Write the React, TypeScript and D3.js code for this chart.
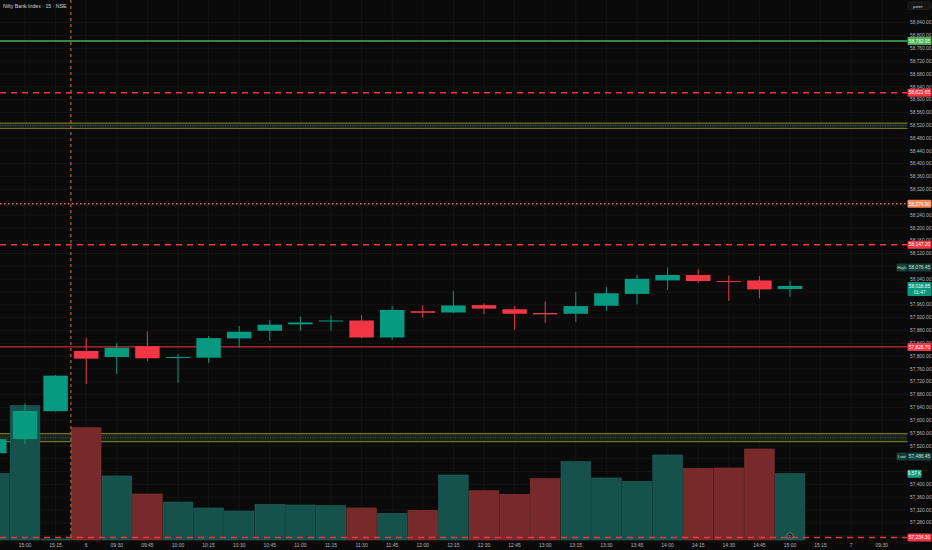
import React from "react";
import * as d3 from "d3";

// ---- data ----
const barIndex = [0, 1, 2, 3, 4, 5, 6, 7, 8, 9, 10, 11, 12, 13, 14, 15, 16, 17, 18, 19, 20, 21, 22, 23, 24, 25, 26];
const opens = [57497, 57541, 57628, 57816, 57797, 57831, 57795, 57795, 57855, 57879, 57899, 57909, 57911, 57858, 57940, 57936, 57959, 57946, 57934.5, 57932, 57957, 57994, 58036, 58053, 58034, 58036, 58009];
const highs = [57545, 57652, 57741, 57857, 57840, 57877, 57806, 57862, 57894, 57912, 57923, 57927, 57928, 57957, 57959, 58003, 57964, 57956, 57970, 58000, 58016, 58053, 58076.45, 58071, 58051, 58050, 58035];
const lows = [57486.45, 57525, 57627, 57713, 57744, 57785, 57717, 57779, 57827, 57848, 57879, 57879, 57856, 57850, 57920, 57935, 57931, 57883, 57904, 57906, 57941, 57961, 58006, 58029, 57972, 57980, 57985];
const closes = [57541, 57629, 57739, 57792, 57826, 57793, 57797, 57856, 57876, 57898, 57905, 57911, 57858, 57944, 57935, 57958, 57948, 57932, 57930, 57956, 57996, 58041, 58053, 58034, 58032, 58008, 58018.85];
const volumesK = [9.62, 19.38, 0.15, 16.2, 9.24, 6.64, 5.48, 4.62, 4.18, 5.15, 5.05, 4.95, 4.62, 3.85, 4.29, 9.38, 7.11, 6.6, 8.85, 11.3, 8.95, 8.47, 12.27, 10.35, 10.39, 13.13, 9.57];

const axisIndex = [1, 2, 3, 4, 5, 6, 7, 8, 9, 10, 11, 12, 13, 14, 15, 16, 17, 18, 19, 20, 21, 22, 23, 24, 25, 26, 27, 28, 29];
const axisLabels = ["15:00", "15:15", "6", "09:30", "09:45", "10:00", "10:15", "10:30", "10:45", "11:00", "11:15", "11:30", "11:45", "12:00", "12:15", "12:30", "12:45", "13:00", "13:15", "13:30", "13:45", "14:00", "14:15", "14:30", "14:45", "15:00", "15:15", "7", "09:30"];

const priceTicks = [58840, 58800, 58760, 58720, 58680, 58640, 58600, 58560, 58520, 58480, 58440, 58400, 58360, 58320, 58280, 58240, 58200, 58160, 58120, 58080, 58040, 58000, 57960, 57920, 57880, 57840, 57800, 57760, 57720, 57680, 57640, 57600, 57560, 57520, 57480, 57440, 57400, 57360, 57320, 57280, 57240];

const levelPrices = [58782.95, 58621.65, 58274.9, 58147.2, 57828.7, 57234.3];
const levelLabels = ["58,782.95", "58,621.65", "58,274.90", "58,147.20", "57,828.70", "57,234.30"];
const zoneHighs = [58527, 57558];
const zoneLows = [58510, 57533];

const highPrice = 58076.45;
const lowPrice = 57486.45;
const lastPrice = 58018.85;
const lastVolumeK = 9.57;
const title = "Nifty Bank Index · 15 · NSE";

// ---- styles ----
const W = 932;
const H = 550;
const PLOT_R = 907.5;
const UP = "#089981";
const DOWN = "#f23645";
const FONT = "'Liberation Sans', Arial, sans-serif";
const TICK_FS = 4.8;
const levelStyles = [
  { color: "#4caf50", dash: "", width: 1.5, bg: "#4caf50" },
  { color: "#f23645", dash: "6 5", width: 1.5, bg: "#f23645" },
  { color: "#f0703c", dash: "1.5 2.5", width: 1.5, bg: "#ee875a" },
  { color: "#f23645", dash: "6 5", width: 1.5, bg: "#f23645" },
  { color: "#f23645", dash: "", width: 1, bg: "#f23645" },
  { color: "#f23645", dash: "6 5", width: 1.5, bg: "#f23645" },
];

const fmt = d3.format(",.2f");

export default function App() {
  const x = d3.scaleLinear().domain([1, 26]).range([25, 790]);
  const y = d3.scaleLinear().domain([57240, 58840]).range([535.6, 22.7]);
  const yVol = d3.scaleLinear().domain([0, 20]).range([540, 401.4]);
  const step = x(2) - x(1);
  const bodyW = step * 0.8;
  const volW = step - 1;

  const labelYs = [
    ...levelPrices.map((p) => y(p)),
    y(highPrice),
    y(lowPrice),
    y(lastPrice),
    y(lastPrice) + 6,
    yVol(lastVolumeK),
  ];
  const visibleTicks = priceTicks.filter((t) => labelYs.every((ly) => Math.abs(ly - y(t)) >= 3));

  const sepX = (x(2) + x(3)) / 2;

  return (
    <div style={{ position: "fixed", left: 0, top: 0, width: W, height: H, background: "#0a0a0a" }}>
      <svg width={W} height={H} style={{ display: "block", fontFamily: FONT }}>
        <rect x={0} y={0} width={W} height={H} fill="#0a0a0a" />
        {/* grid */}
        {axisIndex.map((i) => (
          <line key={"gv" + i} x1={x(i)} x2={x(i)} y1={0} y2={540} stroke="#141414" strokeWidth={1} />
        ))}
        {priceTicks.map((t) => (
          <line key={"gh" + t} x1={0} x2={PLOT_R} y1={y(t)} y2={y(t)} stroke="#141414" strokeWidth={1} />
        ))}

        {/* zones */}
        {zoneHighs.map((zh, k) => {
          const y0 = y(zh);
          const y1 = y(zoneLows[k]);
          return (
            <g key={"z" + k}>
              <rect x={0} y={y0} width={PLOT_R} height={y1 - y0} fill="#17231c" />
              <line x1={0} x2={PLOT_R} y1={(y0 + y1) / 2} y2={(y0 + y1) / 2} stroke="#4a5a4a" strokeWidth={1} strokeDasharray="1 1.5" />
              <line x1={0} x2={PLOT_R} y1={y0} y2={y0} stroke="#72721e" strokeWidth={1.2} />
              <line x1={0} x2={PLOT_R} y1={y1} y2={y1} stroke="#72721e" strokeWidth={1.2} />
            </g>
          );
        })}

        {/* volume */}
        {barIndex.map((i) => {
          const up = closes[i] >= opens[i];
          const top = yVol(volumesK[i]);
          return (
            <rect
              key={"v" + i}
              x={x(i) - volW / 2}
              y={top}
              width={volW}
              height={Math.max(0.5, 540 - top)}
              fill={up ? "#16524c" : "#782a2b"}
              stroke={up ? "#1f625b" : "#8a3334"}
              strokeWidth={0.6}
            />
          );
        })}

        {/* day separator */}
        <line x1={sepX} x2={sepX} y1={0} y2={540} stroke="#b0602c" strokeWidth={1.2} strokeDasharray="3 3" />

        {/* levels */}
        {levelPrices.map((p, k) => {
          const s = levelStyles[k];
          return (
            <line
              key={"l" + k}
              x1={0}
              x2={PLOT_R}
              y1={y(p)}
              y2={y(p)}
              stroke={s.color}
              strokeWidth={s.width}
              strokeDasharray={s.dash || undefined}
            />
          );
        })}

        {/* candles */}
        {barIndex.map((i) => {
          const up = closes[i] >= opens[i];
          const c = up ? UP : DOWN;
          const yTop = y(Math.max(opens[i], closes[i]));
          const yBot = y(Math.min(opens[i], closes[i]));
          return (
            <g key={"c" + i}>
              <line x1={x(i)} x2={x(i)} y1={y(highs[i])} y2={y(lows[i])} stroke={c} strokeWidth={1} />
              <rect x={x(i) - bodyW / 2} y={yTop} width={bodyW} height={Math.max(1, yBot - yTop)} fill={c} />
            </g>
          );
        })}

        {/* event marker */}
        <circle cx={x(26)} cy={536} r={3.2} fill="#1e1e1e" stroke="#8a8a8a" strokeWidth={0.8} />
        <text x={x(26)} y={537.8} fontSize={4} fill="#cfcfcf" textAnchor="middle">D</text>

        {/* title */}
        <text x={3} y={7.6} fontSize={5.2} fill="#d1d4dc">{title}</text>

        {/* top-right button */}
        <rect x={908} y={2} width={22.5} height={7.5} rx={1.5} fill="#141414" stroke="#2a2a2a" strokeWidth={0.6} />
        <text x={913} y={7.5} fontSize={4.4} fill="#d1d4dc">point</text>

        {/* price ticks */}
        {visibleTicks.map((t) => (
          <text key={"t" + t} x={910} y={y(t) + 1.7} fontSize={TICK_FS} fill="#b2b5be">{fmt(t)}</text>
        ))}

        {/* level labels */}
        {levelPrices.map((p, k) => (
          <g key={"ll" + k}>
            <rect x={907.5} y={y(p) - 4} width={24} height={8} rx={1} fill={levelStyles[k].bg} />
            <text x={919.5} y={y(p) + 1.7} fontSize={TICK_FS} fill="#ffffff" textAnchor="middle">{levelLabels[k]}</text>
          </g>
        ))}

        {/* high / low */}
        {[
          { name: "High", p: highPrice },
          { name: "Low", p: lowPrice },
        ].map((d) => (
          <g key={d.name}>
            <rect x={896.5} y={y(d.p) - 4} width={10.5} height={8} rx={1} fill="#17403b" />
            <text x={901.7} y={y(d.p) + 1.6} fontSize={4.3} fill="#c9e3de" textAnchor="middle">{d.name}</text>
            <rect x={907.5} y={y(d.p) - 4} width={24} height={8} rx={1} fill="#17403b" />
            <text x={919.5} y={y(d.p) + 1.7} fontSize={TICK_FS} fill="#c9e3de" textAnchor="middle">{fmt(d.p)}</text>
          </g>
        ))}

        {/* last price */}
        <rect x={907.5} y={y(lastPrice) - 4} width={24} height={14} rx={1} fill={UP} />
        <text x={919.5} y={y(lastPrice) + 1.7} fontSize={TICK_FS} fill="#ffffff" textAnchor="middle">{fmt(lastPrice)}</text>
        <text x={919.5} y={y(lastPrice) + 7.6} fontSize={4.6} fill="#e6f5f2" textAnchor="middle">01:47</text>

        {/* last volume */}
        <rect x={907.5} y={yVol(lastVolumeK) - 4} width={14} height={8} rx={1} fill="#1aa07f" />
        <text x={914.5} y={yVol(lastVolumeK) + 1.7} fontSize={4.6} fill="#ffffff" textAnchor="middle">{lastVolumeK + " K"}</text>

        {/* time axis */}
        {axisIndex.map((i, k) => (
          <text key={"xa" + i} x={x(i)} y={546.5} fontSize={5} fill="#b2b5be" textAnchor="middle">{axisLabels[k]}</text>
        ))}
      </svg>
    </div>
  );
}
